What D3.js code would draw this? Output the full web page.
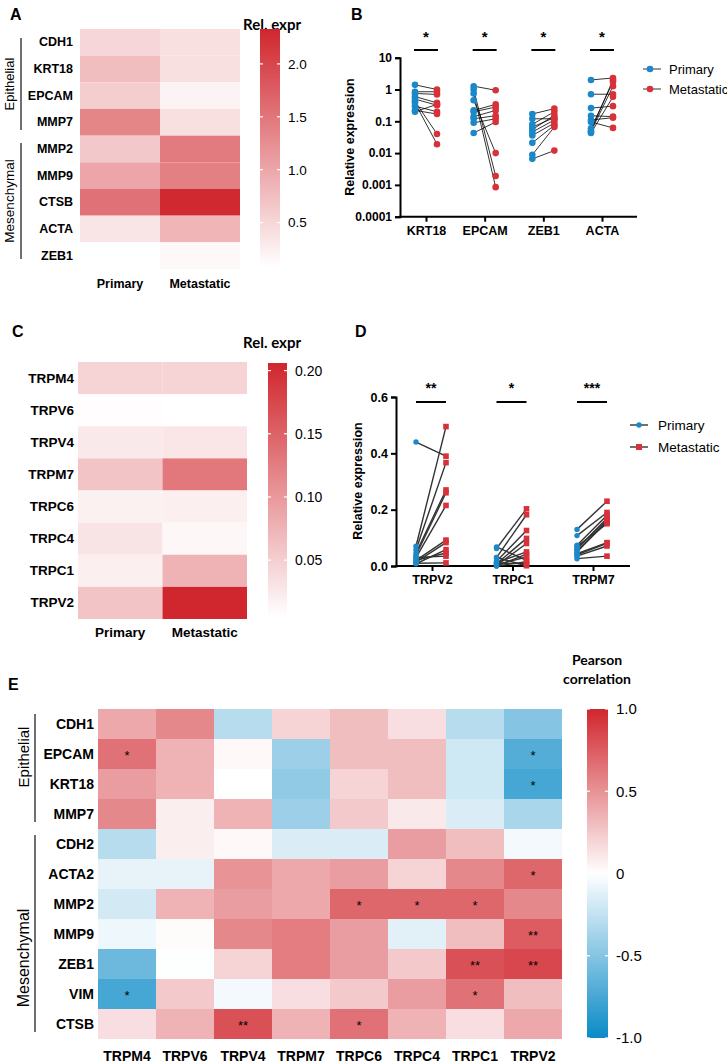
<!DOCTYPE html>
<html><head><meta charset="utf-8">
<script src="https://cdn.jsdelivr.net/npm/d3@7"></script>
<style>body{margin:0;background:#fff} svg{display:block}</style>
</head><body>
<svg id="c" width="727" height="1063"></svg>
<script>
// ---------- DATA ----------
const genesA = ["CDH1","KRT18","EPCAM","MMP7","MMP2","MMP9","CTSB","ACTA","ZEB1"];
const groups = ["Primary","Metastatic"];
const exprAPrimary    = [0.5,0.75,0.6,1.35,0.65,1.0,1.55,0.35,0.08];
const exprAMetastatic = [0.4,0.4,0.2,0.4,1.45,1.4,2.3,0.85,0.15];
const cbATicks = [0.5,1.0,1.5,2.0];
const cbADomain = [0.08,2.33];

const genesB = ["KRT18","EPCAM","ZEB1","ACTA"];
const primaryB = [
  [1.4,0.85,0.75,0.6,0.5,0.42,0.38,0.3,0.22,0.2],
  [1.27,1.0,0.75,0.46,0.22,0.2,0.14,0.12,0.09,0.043],
  [0.17,0.12,0.08,0.066,0.055,0.046,0.036,0.021,0.0089,0.0066],
  [2.0,0.71,0.26,0.15,0.11,0.095,0.06,0.048,0.043,0.05]
];
const metastaticB = [
  [1.0,0.85,0.7,0.38,0.32,0.04,0.019,0.2,0.17,0.34],
  [0.95,0.0019,0.00085,0.01,0.34,0.28,0.22,0.15,0.12,0.095],
  [0.25,0.12,0.2,0.13,0.155,0.11,0.088,0.075,0.066,0.012],
  [2.3,0.71,0.3,0.14,0.13,0.062,1.75,1.27,0.59,2.0]
];
const sigB = ["*","*","*","*"];
const yTicksB = [0.0001,0.001,0.01,0.1,1,10];
const yTickLabelsB = ["0.0001","0.001","0.01","0.1","1","10"];

const channelsC = ["TRPM4","TRPV6","TRPV4","TRPM7","TRPC6","TRPC4","TRPC1","TRPV2"];
const exprCPrimary    = [0.045,0.007,0.025,0.06,0.018,0.03,0.02,0.06];
const exprCMetastatic = [0.045,0.005,0.028,0.13,0.02,0.012,0.075,0.205];
const cbCTicks = [0.05,0.10,0.15,0.20];
const cbCDomain = [0.005,0.206];

const channelsD = ["TRPV2","TRPC1","TRPM7"];
const primaryD = [
  [0.44,0.07,0.058,0.046,0.038,0.03,0.02,0.014,0.008,0.02,0.03,0.01],
  [0.068,0.062,0.03,0.017,0.008,0.002,0.0,0.005,0.01,0.03,0.0,0.012],
  [0.13,0.108,0.074,0.062,0.054,0.044,0.035,0.026,0.06,0.05,0.07,0.04]
];
const metastaticD = [
  [0.39,0.495,0.367,0.27,0.26,0.215,0.092,0.083,0.058,0.046,0.035,0.011],
  [0.02,0.203,0.182,0.126,0.098,0.08,0.042,0.032,0.008,0.001,0.015,0.05],
  [0.23,0.19,0.18,0.164,0.155,0.083,0.071,0.035,0.17,0.16,0.15,0.08]
];
const sigD = ["**","*","***"];
const yTicksD = [0.0,0.2,0.4,0.6];

const rowsE = ["CDH1","EPCAM","KRT18","MMP7","CDH2","ACTA2","MMP2","MMP9","ZEB1","VIM","CTSB"];
const colsE = ["TRPM4","TRPV6","TRPV4","TRPM7","TRPC6","TRPC4","TRPC1","TRPV2"];
const corrE = [
  [0.4,0.55,-0.3,0.2,0.3,0.15,-0.3,-0.5],
  [0.65,0.35,0.03,-0.4,0.3,0.3,-0.2,-0.7],
  [0.45,0.35,0.0,-0.45,0.2,0.3,-0.2,-0.75],
  [0.55,0.08,0.35,-0.4,0.25,0.1,-0.15,-0.35],
  [-0.3,0.08,0.03,-0.15,-0.15,0.45,0.3,-0.05],
  [-0.1,-0.1,0.5,0.4,0.45,0.2,0.55,0.7],
  [-0.18,0.35,0.45,0.4,0.7,0.7,0.7,0.55],
  [-0.07,0.02,0.55,0.6,0.45,-0.12,0.3,0.75],
  [-0.6,-0.01,0.2,0.6,0.45,0.25,0.8,0.85],
  [-0.75,0.25,-0.05,0.15,0.25,0.45,0.65,0.3],
  [0.15,0.35,0.8,0.35,0.65,0.35,0.15,0.4]
];
const sigE = [
  ["","","","","","","",""],
  ["*","","","","","","","*"],
  ["","","","","","","","*"],
  ["","","","","","","",""],
  ["","","","","","","",""],
  ["","","","","","","","*"],
  ["","","","","*","*","*",""],
  ["","","","","","","","**"],
  ["","","","","","","**","**"],
  ["*","","","","","","*",""],
  ["","","**","","*","","",""]
];
const cbETicks = [-1.0,-0.5,0,0.5,1.0];
const cbELabels = ["-1.0","-0.5","0","0.5","1.0"];

// ---------- DRAWING ----------
const svg = d3.select("#c");
const ARIAL = "'Liberation Sans', Arial, sans-serif";
const CAL = "Lato, 'Open Sans', sans-serif";
const RED = "#d0262d", BLUE = "#0a8ac6";
const PBLUE = "#1b88c8", PRED = "#d8313a";

function txt(x,y,s,opt={}) {
  const t = svg.append("text").attr("x",x).attr("y",y).text(s)
    .attr("font-family",opt.ff||ARIAL).attr("font-size",opt.fs||12)
    .attr("font-weight",opt.fw||"normal").attr("text-anchor",opt.anchor||"start")
    .attr("fill","#000");
  if (opt.rot) t.attr("transform",`rotate(${opt.rot},${x},${y})`);
  if (opt.db) t.attr("dominant-baseline",opt.db);
  return t;
}

function colorbar(id, x, y0, y1, w, scaleColor, domain, ticks, labels, fs) {
  const grad = svg.append("defs").append("linearGradient").attr("id",id)
    .attr("x1",0).attr("y1",1).attr("x2",0).attr("y2",0);
  const n = 20;
  for (let i=0;i<=n;i++){
    const v = domain[0] + (domain[1]-domain[0])*i/n;
    grad.append("stop").attr("offset",i/n).attr("stop-color",scaleColor(v));
  }
  svg.append("rect").attr("x",x).attr("y",y0).attr("width",w).attr("height",y1-y0).attr("fill",`url(#${id})`);
  const ys = d3.scaleLinear().domain(domain).range([y1,y0]);
  const g = svg.append("g").attr("transform",`translate(${x+w},0)`)
    .call(d3.axisRight(ys).tickValues(ticks).tickSize(0).tickPadding(8)
      .tickFormat((d,i)=>labels[i]));
  g.select(".domain").remove();
  g.selectAll("text").attr("font-family",ARIAL).attr("font-size",fs).attr("fill","#000");
  ticks.forEach(t=>{
    svg.append("line").attr("x1",x).attr("x2",x+3).attr("y1",ys(t)).attr("y2",ys(t)).attr("stroke","#fff").attr("stroke-width",1.2);
    svg.append("line").attr("x1",x+w-3).attr("x2",x+w).attr("y1",ys(t)).attr("y2",ys(t)).attr("stroke","#fff").attr("stroke-width",1.2);
  });
}

function bracket(x, y0, y1, label, fs, tx, ty) {
  svg.append("line").attr("x1",x).attr("x2",x).attr("y1",y0).attr("y2",y1).attr("stroke","#222").attr("stroke-width",1.3);
  txt(tx, ty===undefined ? (y0+y1)/2 : ty, label,{fs:fs,anchor:"middle",rot:-90});
}

// ===== Panel A =====
txt(10,20,"A",{fs:16,fw:"bold"});
{
  const colA = d3.scaleLinear().domain(cbADomain).range(["#ffffff",RED]);
  const x = d3.scaleBand().domain(groups).range([80,240]);
  const y = d3.scaleBand().domain(genesA).range([29,269]);
  genesA.forEach((g,i)=>{
    [exprAPrimary[i],exprAMetastatic[i]].forEach((v,j)=>{
      svg.append("rect").attr("x",x(groups[j])).attr("y",y(g)).attr("width",x.bandwidth()).attr("height",y.bandwidth()).attr("fill",colA(v));
    });
    txt(73,y(g)+y.bandwidth()/2,g,{fs:12.5,fw:"bold",anchor:"end",db:"central"});
  });
  groups.forEach(g=>txt(x(g)+x.bandwidth()/2,288,g,{fs:12.5,fw:"bold",anchor:"middle"}));
  bracket(21,38,130,"Epithelial",13,14);
  bracket(21,143,259,"Mesenchymal",13.5,14);
  txt(301,30,"Rel. expr",{ff:CAL,fs:15,fw:"bold",anchor:"end"});
  colorbar("gA",260,29,267,20,colA,cbADomain,cbATicks,cbATicks.map(d=>d.toFixed(1)),13.5);
}

// ===== Panel B =====
txt(351,20,"B",{fs:16,fw:"bold"});
{
  const y = d3.scaleLog().domain([0.0001,10]).range([216.7,57.7]);
  const x = d3.scalePoint().domain(genesB).range([426,602]);
  const off = 11;
  const ya = svg.append("g").attr("transform","translate(400,0)")
    .call(d3.axisLeft(y).tickValues(yTicksB).tickSize(5).tickPadding(3).tickFormat((d,i)=>yTickLabelsB[i]));
  ya.select(".domain").attr("stroke-width",2);
  ya.selectAll("line").attr("stroke-width",2);
  ya.selectAll("text").attr("font-family",ARIAL).attr("font-size",12).attr("font-weight","bold").attr("fill","#000");
  svg.append("line").attr("x1",399).attr("x2",637).attr("y1",216.7).attr("y2",216.7).attr("stroke","#000").attr("stroke-width",2);
  const xa = svg.append("g").attr("transform","translate(0,216.7)")
    .call(d3.axisBottom(x).tickSize(5).tickPadding(4));
  xa.select(".domain").remove();
  xa.selectAll("line").attr("stroke-width",2);
  xa.selectAll("text").attr("font-family",ARIAL).attr("font-size",12.5).attr("font-weight","bold").attr("fill","#000");
  txt(350,137,"Relative expression",{fs:12.5,fw:"bold",anchor:"middle",rot:-90,db:"central"});
  genesB.forEach((g,i)=>{
    const cx = x(g);
    primaryB[i].forEach((p,k)=>{
      svg.append("line").attr("x1",cx-off).attr("x2",cx+off).attr("y1",y(p)).attr("y2",y(metastaticB[i][k])).attr("stroke","#000").attr("stroke-width",0.8);
    });
    primaryB[i].forEach(p=>svg.append("circle").attr("cx",cx-off).attr("cy",y(p)).attr("r",3.3).attr("fill",PBLUE));
    metastaticB[i].forEach(p=>svg.append("circle").attr("cx",cx+off).attr("cy",y(p)).attr("r",3.3).attr("fill",PRED));
    svg.append("line").attr("x1",cx-12).attr("x2",cx+12).attr("y1",50).attr("y2",50).attr("stroke","#000").attr("stroke-width",2);
    txt(cx,42,sigB[i],{fs:15,fw:"bold",anchor:"middle"});
  });
  [["Primary",PBLUE,69],["Metastatic",PRED,89]].forEach(([l,c,yy])=>{
    svg.append("line").attr("x1",643).attr("x2",661).attr("y1",yy).attr("y2",yy).attr("stroke","#000").attr("stroke-width",0.8);
    svg.append("circle").attr("cx",650).attr("cy",yy).attr("r",3.3).attr("fill",c);
    txt(669,yy,l,{fs:13,db:"central"});
  });
}

// ===== Panel C =====
txt(12,337,"C",{fs:16,fw:"bold"});
{
  const colC = d3.scaleLinear().domain(cbCDomain).range(["#ffffff",RED]);
  const x = d3.scaleBand().domain(groups).range([78,247]);
  const y = d3.scaleBand().domain(channelsC).range([362,619]);
  channelsC.forEach((g,i)=>{
    [exprCPrimary[i],exprCMetastatic[i]].forEach((v,j)=>{
      svg.append("rect").attr("x",x(groups[j])).attr("y",y(g)).attr("width",x.bandwidth()).attr("height",y.bandwidth()).attr("fill",colC(v));
    });
    txt(74,y(g)+y.bandwidth()/2,g,{fs:13.5,fw:"bold",anchor:"end",db:"central"});
  });
  groups.forEach(g=>txt(x(g)+x.bandwidth()/2,637,g,{fs:13.5,fw:"bold",anchor:"middle"}));
  txt(301,348,"Rel. expr",{ff:CAL,fs:15,fw:"bold",anchor:"end"});
  colorbar("gC",268,363,617,19,colC,cbCDomain,cbCTicks,cbCTicks.map(d=>d.toFixed(2)),14);
}

// ===== Panel D =====
txt(355,337,"D",{fs:16,fw:"bold"});
{
  const y = d3.scaleLinear().domain([0,0.6]).range([566,397]);
  const x = d3.scalePoint().domain(channelsD).range([432,593]);
  const ya = svg.append("g").attr("transform","translate(396,0)")
    .call(d3.axisLeft(y).tickValues(yTicksD).tickSize(5).tickPadding(3).tickFormat(d3.format(".1f")));
  ya.select(".domain").attr("stroke-width",2);
  ya.selectAll("line").attr("stroke-width",2);
  ya.selectAll("text").attr("font-family",ARIAL).attr("font-size",12.5).attr("font-weight","bold").attr("fill","#000");
  svg.append("line").attr("x1",395).attr("x2",630).attr("y1",566).attr("y2",566).attr("stroke","#000").attr("stroke-width",2);
  const xa = svg.append("g").attr("transform","translate(0,566)")
    .call(d3.axisBottom(x).tickSize(5).tickPadding(4));
  xa.select(".domain").remove();
  xa.selectAll("line").attr("stroke-width",2);
  xa.selectAll("text").attr("font-family",ARIAL).attr("font-size",12.5).attr("font-weight","bold").attr("fill","#000");
  txt(358,481,"Relative expression",{fs:12.5,fw:"bold",anchor:"middle",rot:-90,db:"central"});
  channelsD.forEach((g,i)=>{
    const cx = x(g);
    primaryD[i].forEach((p,k)=>{
      svg.append("line").attr("x1",cx-16).attr("x2",cx+14).attr("y1",y(p)).attr("y2",y(metastaticD[i][k])).attr("stroke","#333").attr("stroke-width",1.4);
    });
    primaryD[i].forEach(p=>svg.append("circle").attr("cx",cx-16).attr("cy",y(p)).attr("r",2.7).attr("fill",PBLUE));
    metastaticD[i].forEach(p=>svg.append("rect").attr("x",cx+14-2.8).attr("y",y(p)-2.8).attr("width",5.6).attr("height",5.6).attr("fill",PRED));
    svg.append("line").attr("x1",cx-16).attr("x2",cx+14).attr("y1",402).attr("y2",402).attr("stroke","#000").attr("stroke-width",2);
    txt(cx-1,393,sigD[i],{fs:14,fw:"bold",anchor:"middle"});
  });
  [["Primary",PBLUE,425,"c"],["Metastatic",PRED,447,"s"]].forEach(([l,c,yy,sh])=>{
    svg.append("line").attr("x1",630).attr("x2",648).attr("y1",yy).attr("y2",yy).attr("stroke","#333").attr("stroke-width",1.4);
    if (sh==="c") svg.append("circle").attr("cx",639).attr("cy",yy).attr("r",2.7).attr("fill",c);
    else svg.append("rect").attr("x",636).attr("y",yy-3).attr("width",6).attr("height",6).attr("fill",c);
    txt(658,yy,l,{fs:13.5,db:"central"});
  });
}

// ===== Panel E =====
txt(8,690,"E",{fs:16,fw:"bold"});
{
  const colE = d3.scaleLinear().domain([-1,0,1]).range([BLUE,"#ffffff",RED]);
  const x = d3.scaleBand().domain(colsE).range([98,562]);
  const y = d3.scaleBand().domain(rowsE).range([709,1039]);
  rowsE.forEach((r,i)=>{
    colsE.forEach((c,j)=>{
      svg.append("rect").attr("x",x(c)).attr("y",y(r)).attr("width",x.bandwidth()).attr("height",y.bandwidth()).attr("fill",colE(corrE[i][j]));
      if (sigE[i][j]) txt(x(c)+x.bandwidth()/2,y(r)+y.bandwidth()/2+6,sigE[i][j],{fs:13,anchor:"middle"});
    });
    txt(94,y(r)+y.bandwidth()/2,r,{fs:14,fw:"bold",anchor:"end",db:"central"});
  });
  colsE.forEach(c=>txt(x(c)+x.bandwidth()/2,1061,c,{fs:14,fw:"bold",anchor:"middle"}));
  bracket(35,714,822,"Epithelial",15,29,757);
  bracket(35,835,1032,"Mesenchymal",16,29,958);
  txt(597,665,"Pearson",{ff:CAL,fs:14,fw:"bold",anchor:"middle"});
  txt(597,684,"correlation",{ff:CAL,fs:14,fw:"bold",anchor:"middle"});
  colorbar("gE",587,709,1038,21,colE,[-1,1],cbETicks,cbELabels,15);
}
</script>
</body></html>
